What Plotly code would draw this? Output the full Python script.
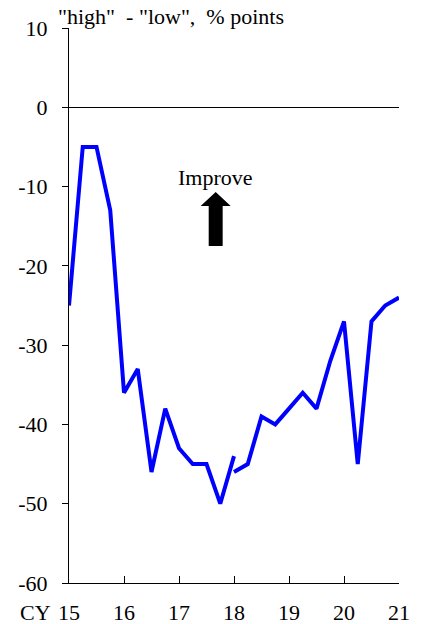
import plotly.graph_objects as go

# quarterly survey balance, "high" minus "low", % points
# old basis up to 2018Q1, new basis from 2018Q1
old_x = [15.0, 15.25, 15.5, 15.75, 16.0, 16.25, 16.5, 16.75, 17.0, 17.25, 17.5, 17.75, 18.0]
old_y = [-25, -5, -5, -13, -36, -33, -46, -38, -43, -45, -45, -50, -44]
new_x = [18.0, 18.25, 18.5, 18.75, 19.0, 19.25, 19.5, 19.75, 20.0, 20.25, 20.5, 20.75, 21.0]
new_y = [-46, -45, -39, -40, -38, -36, -38, -32, -27, -45, -27, -25, -24]

year_ticks = [15, 16, 17, 18, 19, 20, 21]
year_labels = ["15", "16", "17", "18", "19", "20", "21"]
level_ticks = [10, 0, -10, -20, -30, -40, -50, -60]
level_labels = ["10", "0", "-10", "-20", "-30", "-40", "-50", "-60"]

FONT = "Liberation Serif"
BLUE = "#0000ff"

fig = go.Figure()
for xs, ys in [(old_x, old_y), (new_x, new_y)]:
    fig.add_trace(go.Scatter(x=xs, y=ys, mode="lines",
                             line=dict(color=BLUE, width=4), showlegend=False))

# "Improve" arrow (filled block arrow)
ax, tip, base, bottom = 17.667, -10.7, -12.45, -17.5
hw, sw = 0.273, 0.127
path = (f"M {ax} {tip} L {ax + hw} {base} L {ax + sw} {base} L {ax + sw} {bottom} "
        f"L {ax - sw} {bottom} L {ax - sw} {base} L {ax - hw} {base} Z")
fig.add_shape(type="path", path=path, xref="x", yref="y",
              fillcolor="black", line=dict(color="black", width=0))
fig.add_annotation(x=ax, y=-8.8, text="Improve", showarrow=False,
                   font=dict(family=FONT, size=22, color="black"))

fig.add_annotation(xref="paper", yref="paper", x=-0.036, y=1.0,
                   xanchor="left", yanchor="bottom", showarrow=False,
                   borderpad=0, yshift=-2,
                   text='"high"  - "low",  % points',
                   font=dict(family=FONT, size=22, color="black"))
fig.add_annotation(xref="paper", yref="paper", x=-0.05, y=-0.054,
                   xanchor="right", yanchor="middle", showarrow=False,
                   text="CY", font=dict(family=FONT, size=22, color="black"))

# page body has an 8px margin, so the figure is 8px smaller than the window
fig.update_layout(
    width=415, height=616,
    margin=dict(l=61, r=24, t=20, b=41),
    plot_bgcolor="white", paper_bgcolor="white",
    font=dict(family=FONT, size=22, color="black"),
)
fig.update_xaxes(range=[15, 21], tickvals=year_ticks, ticktext=year_labels,
                 ticks="inside", ticklen=7, tickcolor="black", tickwidth=1,
                 ticklabelstandoff=10, automargin=False,
                 showline=True, linecolor="black", linewidth=1,
                 showgrid=False, zeroline=False)
fig.update_yaxes(range=[-60, 10], tickvals=level_ticks, ticktext=level_labels,
                 ticks="outside", ticklen=6, tickcolor="black", tickwidth=1,
                 ticklabelstandoff=10, automargin=False,
                 showline=True, linecolor="black", linewidth=1,
                 showgrid=False, zeroline=True, zerolinecolor="black",
                 zerolinewidth=1)

fig.write_html("out.html")
